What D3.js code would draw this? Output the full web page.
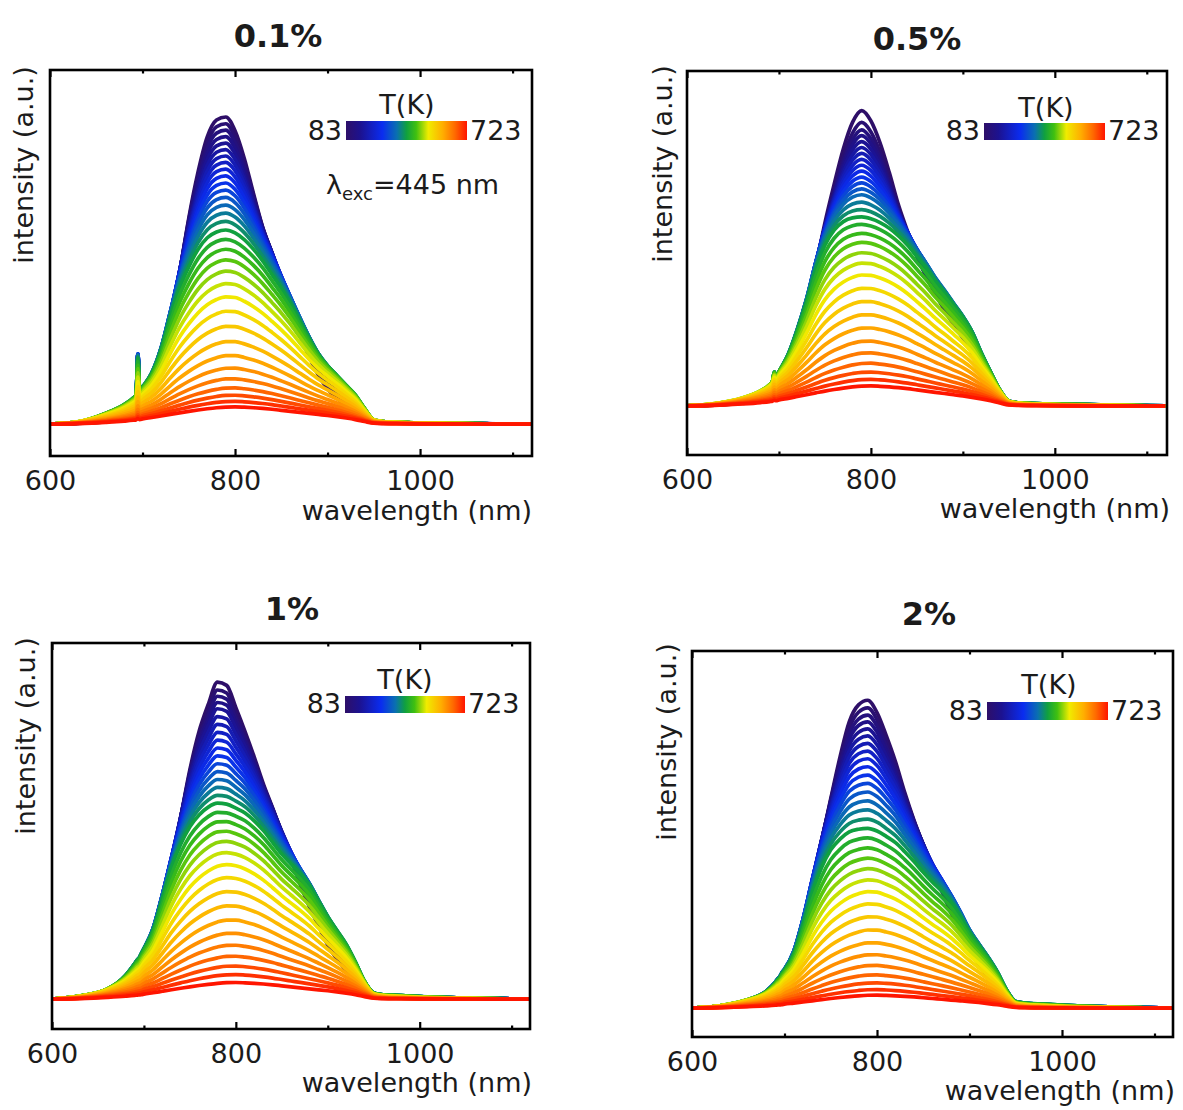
<!DOCTYPE html>
<html>
<head>
<meta charset="utf-8">
<script src="https://cdn.jsdelivr.net/npm/d3@7"></script>
<style>
  html, body { margin: 0; background: #fff; }
  svg { display: block; }
</style>
</head>
<body>
<svg id="fig" width="1183" height="1110"></svg>
<script>
// ---- Data ---------------------------------------------------------------
// Temperatures of the recorded spectra (K)
const temperatures = [83, 103, 123, 143, 163, 183, 203, 223, 243, 263, 283, 303, 323, 343, 363, 383,
  403, 423, 443, 463, 483, 503, 523, 543, 563, 583, 603, 623, 643, 663, 683, 703, 723];

// Doping levels, one panel each
const dopings = ["0.1%", "0.5%", "1%", "2%"];

// Wavelength sampling of the band profiles (nm)
const wavelengths = [600, 630, 660, 680, 690, 693, 695, 697, 700, 710, 720, 730, 740, 750, 760, 770,
  780, 790, 800, 810, 820, 830, 840, 850, 860, 870, 880, 890, 900, 910, 920, 930, 940, 950, 960,
  980, 1000, 1030, 1060, 1090, 1120];

// Normalised band profiles at 83 K, 403 K and 723 K for each doping
const p1Low  = [0, 0.002, 0.008, 0.02, 0.035, 0.045, 0.21, 0.055, 0.07, 0.12, 0.2, 0.32, 0.49, 0.67, 0.82, 0.935,
  0.99, 1.0, 0.955, 0.865, 0.75, 0.64, 0.555, 0.46, 0.37, 0.29, 0.22, 0.16, 0.115, 0.085, 0.06, 0.04, 0.022, 0.01, 0.006,
  0.004, 0.003, 0.002, 0.001, 0, 0];
const p1Mid  = [0, 0.01, 0.055, 0.1, 0.135, 0.15, 0.34, 0.17, 0.19, 0.26, 0.38, 0.55, 0.7, 0.81, 0.9, 0.96,
  0.99, 1.0, 0.985, 0.95, 0.9, 0.84, 0.77, 0.7, 0.62, 0.53, 0.44, 0.36, 0.3, 0.25, 0.2, 0.15, 0.08, 0.02, 0.012,
  0.008, 0.005, 0.003, 0.002, 0.001, 0];
const p1High = [0, 0.03, 0.1, 0.17, 0.22, 0.24, 0.32, 0.26, 0.3, 0.38, 0.47, 0.56, 0.65, 0.74, 0.82, 0.89,
  0.95, 0.99, 1.0, 0.98, 0.95, 0.91, 0.86, 0.8, 0.74, 0.68, 0.62, 0.56, 0.5, 0.43, 0.35, 0.26, 0.15, 0.05, 0.03,
  0.018, 0.01, 0.006, 0.003, 0.001, 0];

const p2Low  = [0, 0.003, 0.01, 0.025, 0.04, 0.05, 0.07, 0.06, 0.075, 0.13, 0.21, 0.32, 0.47, 0.62, 0.75, 0.87,
  0.96, 1.0, 0.965, 0.89, 0.79, 0.68, 0.59, 0.51, 0.44, 0.38, 0.325, 0.275, 0.23, 0.18, 0.125, 0.08, 0.045, 0.015, 0.008,
  0.005, 0.004, 0.003, 0.002, 0.001, 0];
const p2Mid  = [0, 0.01, 0.035, 0.075, 0.11, 0.13, 0.18, 0.15, 0.18, 0.27, 0.4, 0.55, 0.72, 0.85, 0.93, 0.975,
  0.995, 1.0, 0.99, 0.97, 0.94, 0.9, 0.85, 0.79, 0.73, 0.66, 0.6, 0.535, 0.47, 0.39, 0.28, 0.18, 0.085, 0.025, 0.016,
  0.012, 0.01, 0.008, 0.005, 0.002, 0];
const p2High = [0, 0.03, 0.1, 0.17, 0.22, 0.24, 0.28, 0.26, 0.3, 0.38, 0.47, 0.56, 0.65, 0.74, 0.82, 0.89,
  0.95, 0.99, 1.0, 0.98, 0.95, 0.91, 0.86, 0.8, 0.74, 0.68, 0.62, 0.56, 0.5, 0.43, 0.35, 0.26, 0.15, 0.05, 0.03,
  0.018, 0.01, 0.006, 0.003, 0.001, 0];

const p3Low  = [0, 0.005, 0.02, 0.05, 0.08, 0.09, 0.095, 0.1, 0.12, 0.19, 0.29, 0.42, 0.57, 0.72, 0.84, 0.925,
  0.995, 0.985, 0.915, 0.84, 0.76, 0.675, 0.6, 0.52, 0.44, 0.36, 0.29, 0.23, 0.17, 0.125, 0.09, 0.06, 0.035, 0.015, 0.008,
  0.005, 0.004, 0.003, 0.002, 0.001, 0];
const p3Mid  = [0, 0.015, 0.05, 0.12, 0.18, 0.2, 0.21, 0.23, 0.255, 0.35, 0.51, 0.67, 0.79, 0.88, 0.94, 0.98,
  1.0, 0.995, 0.975, 0.95, 0.91, 0.86, 0.8, 0.74, 0.69, 0.64, 0.58, 0.5, 0.42, 0.35, 0.28, 0.19, 0.09, 0.03, 0.022,
  0.018, 0.013, 0.008, 0.004, 0.002, 0];
const p3High = [0, 0.03, 0.1, 0.17, 0.22, 0.24, 0.25, 0.26, 0.3, 0.38, 0.47, 0.56, 0.65, 0.74, 0.82, 0.89,
  0.95, 0.99, 1.0, 0.98, 0.95, 0.91, 0.86, 0.8, 0.74, 0.68, 0.62, 0.56, 0.5, 0.43, 0.35, 0.26, 0.15, 0.05, 0.03,
  0.018, 0.01, 0.006, 0.003, 0.001, 0];

const p4Low  = [0, 0.004, 0.015, 0.04, 0.06, 0.07, 0.075, 0.08, 0.09, 0.15, 0.25, 0.39, 0.54, 0.68, 0.815, 0.93,
  0.985, 1.0, 0.96, 0.885, 0.8, 0.7, 0.61, 0.53, 0.45, 0.38, 0.31, 0.25, 0.19, 0.14, 0.1, 0.065, 0.035, 0.015, 0.008,
  0.005, 0.004, 0.003, 0.002, 0.001, 0];
const p4Mid  = [0, 0.012, 0.045, 0.09, 0.14, 0.16, 0.17, 0.19, 0.21, 0.3, 0.46, 0.64, 0.78, 0.88, 0.94, 0.98,
  0.995, 1.0, 0.985, 0.955, 0.92, 0.87, 0.815, 0.755, 0.7, 0.65, 0.59, 0.51, 0.42, 0.35, 0.28, 0.2, 0.1, 0.035, 0.028,
  0.022, 0.016, 0.01, 0.005, 0.002, 0];
const p4High = [0, 0.03, 0.1, 0.17, 0.22, 0.24, 0.25, 0.26, 0.3, 0.38, 0.47, 0.56, 0.65, 0.74, 0.82, 0.89,
  0.95, 0.99, 1.0, 0.98, 0.95, 0.91, 0.86, 0.8, 0.74, 0.68, 0.62, 0.56, 0.5, 0.43, 0.35, 0.26, 0.15, 0.05, 0.03,
  0.018, 0.01, 0.006, 0.003, 0.001, 0];

// Peak intensity of each spectrum, relative to the 83 K spectrum
const p1Peaks = [1.0, 0.978, 0.957, 0.936, 0.915, 0.894, 0.873, 0.852, 0.83, 0.808, 0.785, 0.762, 0.738, 0.713,
  0.687, 0.66, 0.632, 0.602, 0.57, 0.536, 0.499, 0.459, 0.416, 0.369, 0.32, 0.27, 0.224, 0.183, 0.148, 0.118,
  0.094, 0.074, 0.056];
const p2Peaks = [1.0, 0.96, 0.935, 0.915, 0.895, 0.875, 0.855, 0.835, 0.815, 0.795, 0.775, 0.755, 0.735, 0.715,
  0.69, 0.665, 0.64, 0.615, 0.585, 0.555, 0.52, 0.485, 0.445, 0.4, 0.355, 0.31, 0.265, 0.22, 0.18, 0.145,
  0.115, 0.09, 0.068];
const p3Peaks = [1.0, 0.975, 0.955, 0.935, 0.915, 0.89, 0.865, 0.84, 0.815, 0.79, 0.765, 0.74, 0.715, 0.69,
  0.665, 0.64, 0.615, 0.588, 0.56, 0.53, 0.498, 0.463, 0.425, 0.384, 0.34, 0.295, 0.25, 0.208, 0.17, 0.135,
  0.104, 0.077, 0.052];
const p4Peaks = [1.0, 0.975, 0.952, 0.93, 0.907, 0.884, 0.86, 0.835, 0.81, 0.784, 0.757, 0.73, 0.702, 0.673,
  0.644, 0.614, 0.584, 0.553, 0.521, 0.488, 0.454, 0.418, 0.38, 0.34, 0.298, 0.255, 0.213, 0.174, 0.139, 0.108,
  0.082, 0.06, 0.042];

// Axis ranges of each panel
const wlRanges = [[600, 1121], [600, 1122], [600, 1120], [600, 1120]];
const intensityRanges = [[-0.104, 1.153], [-0.166, 1.134], [-0.094, 1.118], [-0.094, 1.16]];

// Axis ticks (nm)
const majorTicks = [600, 800, 1000];
const minorTicks = [700, 900, 1100];

// ---- Layout -------------------------------------------------------------
const layout = [
  { box: { l: 50, r: 532, t: 70, b: 456 }, title: [278, 47], bar: { x: 346, y: 121, w: 121, h: 19 },
    tk: [407, 114], xLab: [532, 520], yLab: [33, 165], note: [326, 194] },
  { box: { l: 687, r: 1167, t: 71, b: 455 }, title: [917, 50], bar: { x: 984, y: 123, w: 121, h: 17 },
    tk: [1046, 117], xLab: [1170, 518], yLab: [672, 164] },
  { box: { l: 52, r: 530, t: 643, b: 1029 }, title: [292, 620], bar: { x: 345, y: 696, w: 120, h: 17 },
    tk: [405, 689], xLab: [532, 1092], yLab: [35, 736] },
  { box: { l: 692, r: 1173, t: 651, b: 1037 }, title: [929, 625], bar: { x: 987, y: 702, w: 121, h: 18 },
    tk: [1049, 694], xLab: [1175, 1100], yLab: [676, 742] }
];
const profiles = [
  [p1Low, p1Mid, p1High, p1Peaks],
  [p2Low, p2Mid, p2High, p2Peaks],
  [p3Low, p3Mid, p3High, p3Peaks],
  [p4Low, p4Mid, p4High, p4Peaks]
];

const FONT = "'DejaVu Sans', sans-serif";
const INK = "#1b1b1b";

// Rainbow palette used for temperature colouring
const paletteStops = [0, 0.12, 0.3, 0.42, 0.5, 0.58, 0.68, 0.8, 0.9, 1];
const paletteColors = ["#2e0f68", "#1c1290", "#0a2cf0", "#0a70b0", "#10a040", "#40c010",
  "#f0ec00", "#ffae00", "#ff6a00", "#ff1500"];
const tMin = d3.min(temperatures), tMax = d3.max(temperatures);
const color = d3.scaleLinear()
  .domain(paletteStops.map(s => tMin + s * (tMax - tMin)))
  .range(paletteColors)
  .interpolate(d3.interpolateRgb);

const svg = d3.select("#fig");
const defs = svg.append("defs");

// Gradient for the temperature colour bars
const grad = defs.append("linearGradient").attr("id", "tgrad")
  .attr("x1", "0%").attr("x2", "100%").attr("y1", "0%").attr("y2", "0%");
paletteStops.forEach((s, i) => grad.append("stop").attr("offset", s).attr("stop-color", paletteColors[i]));

// Spectrum for the i-th temperature: band profile weighted between the
// 83 K / 403 K / 723 K profiles, scaled by its peak intensity
function spectrum(prof, i) {
  const [low, mid, high, peaks] = prof;
  const f = i / (temperatures.length - 1);
  return wavelengths.map((w, k) => {
    let s;
    if (f <= 0.5) { const a = f * 2; s = low[k] * (1 - a) + mid[k] * a; }
    else { const a = (f - 0.5) * 2; s = mid[k] * (1 - a) + high[k] * a; }
    return { wl: w, v: peaks[i] * s };
  });
}

layout.forEach((L, p) => {
  const b = L.box;
  const x = d3.scaleLinear().domain(wlRanges[p]).range([b.l, b.r]);
  const y = d3.scaleLinear().domain(intensityRanges[p]).range([b.b, b.t]);
  const g = svg.append("g");

  defs.append("clipPath").attr("id", "clip" + p)
    .append("rect").attr("x", b.l).attr("y", b.t).attr("width", b.r - b.l).attr("height", b.b - b.t);

  // spectra, coolest first so the hotter ones lie on top
  const line = d3.line().x(d => x(d.wl)).y(d => y(d.v)).curve(d3.curveMonotoneX);
  g.append("g").attr("clip-path", `url(#clip${p})`)
    .selectAll("path")
    .data(temperatures.map((t, i) => ({ t, pts: spectrum(profiles[p], i) })))
    .join("path")
    .attr("d", d => line(d.pts))
    .attr("fill", "none")
    .attr("stroke", d => color(d.t))
    .attr("stroke-width", 3.7)
    .attr("stroke-linejoin", "round");

  // frame
  g.append("rect").attr("x", b.l).attr("y", b.t).attr("width", b.r - b.l).attr("height", b.b - b.t)
    .attr("fill", "none").attr("stroke", "#000").attr("stroke-width", 2.6);

  // inward ticks, bottom and top
  const axMajB = d3.axisBottom(x).tickValues(majorTicks).tickSize(-7).tickPadding(15).tickFormat(d3.format("d"));
  const axMinB = d3.axisBottom(x).tickValues(minorTicks).tickSize(-3.5).tickFormat("");
  const axMajT = d3.axisTop(x).tickValues(majorTicks).tickSize(-7).tickFormat("");
  const axMinT = d3.axisTop(x).tickValues(minorTicks).tickSize(-3.5).tickFormat("");
  [[axMajB, b.b], [axMinB, b.b], [axMajT, b.t], [axMinT, b.t]].forEach(([ax, yy]) => {
    const a = g.append("g").attr("transform", `translate(0,${yy})`).call(ax);
    a.select(".domain").remove();
    a.selectAll("line").attr("stroke", "#000").attr("stroke-width", 2.2);
    a.selectAll("text").attr("font-family", FONT).attr("font-size", 27).attr("fill", INK);
  });

  // axis titles
  g.append("text").attr("x", L.xLab[0]).attr("y", L.xLab[1]).attr("text-anchor", "end")
    .attr("font-family", FONT).attr("font-size", 27).attr("fill", INK).text("wavelength (nm)");
  g.append("text").attr("transform", `translate(${L.yLab[0]},${L.yLab[1]}) rotate(-90)`)
    .attr("text-anchor", "middle").attr("font-family", FONT).attr("font-size", 27).attr("fill", INK)
    .text("intensity (a.u.)");

  // panel title
  g.append("text").attr("x", L.title[0]).attr("y", L.title[1]).attr("text-anchor", "middle")
    .attr("font-family", FONT).attr("font-weight", "bold").attr("font-size", 32).attr("fill", INK)
    .text(dopings[p]);

  // temperature colour bar
  const bar = L.bar;
  g.append("rect").attr("x", bar.x).attr("y", bar.y).attr("width", bar.w).attr("height", bar.h)
    .attr("fill", "url(#tgrad)");
  g.append("text").attr("x", bar.x - 4).attr("y", bar.y + bar.h).attr("text-anchor", "end")
    .attr("font-family", FONT).attr("font-size", 27).attr("fill", INK).text(tMin);
  g.append("text").attr("x", bar.x + bar.w + 3).attr("y", bar.y + bar.h).attr("text-anchor", "start")
    .attr("font-family", FONT).attr("font-size", 27).attr("fill", INK).text(tMax);
  g.append("text").attr("x", L.tk[0]).attr("y", L.tk[1]).attr("text-anchor", "middle")
    .attr("font-family", FONT).attr("font-size", 27).attr("fill", INK).text("T(K)");

  // excitation wavelength note
  if (L.note) {
    const t = g.append("text").attr("x", L.note[0]).attr("y", L.note[1])
      .attr("font-family", FONT).attr("font-size", 27).attr("fill", INK);
    t.append("tspan").text("λ");
    t.append("tspan").attr("font-size", 18).attr("dy", 6).text("exc");
    t.append("tspan").attr("dy", -6).text("=445 nm");
  }
});
</script>
</body>
</html>
